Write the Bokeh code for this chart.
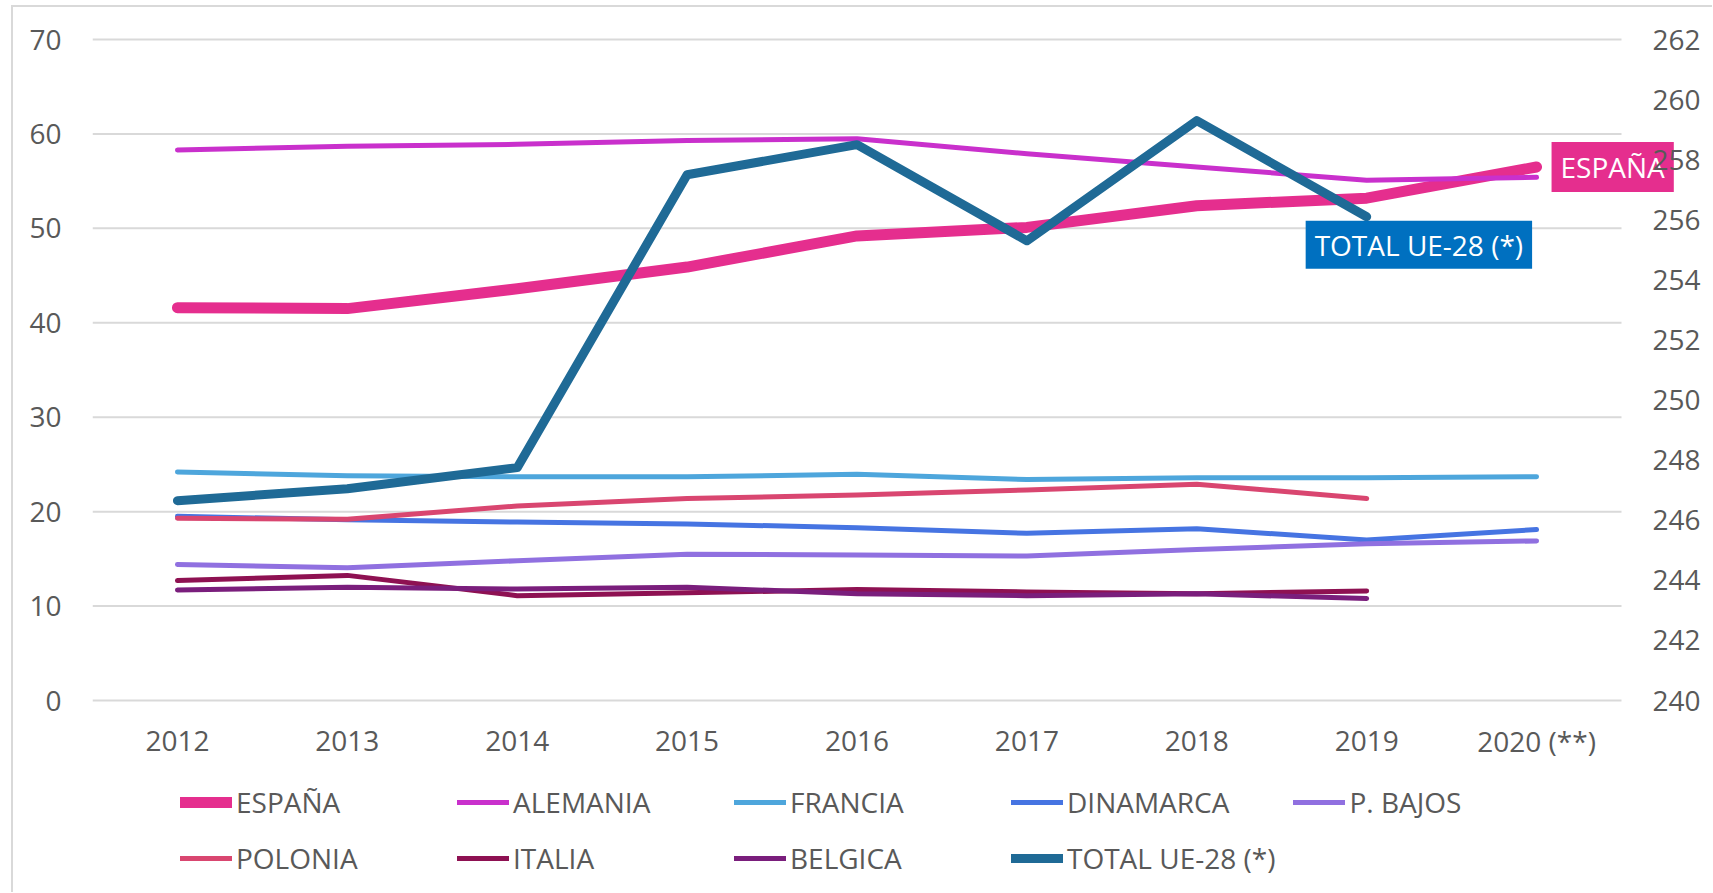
from bokeh.plotting import figure
from bokeh.models import Range1d, FixedTicker, Legend, LegendItem, Label
from bokeh.core.properties import value
from bokeh.embed import file_html
from bokeh.resources import INLINE

# ---------------- data ----------------
years = ["2012", "2013", "2014", "2015", "2016", "2017", "2018", "2019", "2020 (**)"]
espana = [41.6, 41.5, 43.6, 45.9, 49.2, 50.1, 52.4, 53.2, 56.5]
alemania = [58.3, 58.7, 58.9, 59.3, 59.5, 57.9, 56.5, 55.1, 55.4]
francia = [24.2, 23.8, 23.7, 23.7, 23.95, 23.4, 23.6, 23.6, 23.7]
dinamarca = [19.5, 19.15, 18.9, 18.7, 18.3, 17.7, 18.2, 17.0, 18.1]
p_bajos = [14.4, 14.06, 14.8, 15.5, 15.4, 15.3, 16.0, 16.6, 16.9]
polonia = [19.3, 19.2, 20.6, 21.4, 21.75, 22.3, 22.9, 21.4]
italia = [12.7, 13.25, 11.1, 11.4, 11.75, 11.5, 11.3, 11.6]
belgica = [11.7, 12.0, 11.8, 12.0, 11.3, 11.1, 11.3, 10.8]
total_ue28 = [246.65, 247.05, 247.75, 257.5, 258.5, 255.3, 259.3, 256.1]

left_ticks = [0, 10, 20, 30, 40, 50, 60, 70]
right_ticks = [240, 242, 244, 246, 248, 250, 252, 254, 256, 258, 260, 262]

FONT = "Open Sans"
TXT = "#595959"
FS = "28px"

# ---------------- layout (pixels) ----------------
W, H = 1712, 892
LEFT = 92                     # frame starts here
MAX_PIX, ZERO_PIX = 39, 700   # pixel rows of the value axis maximum / minimum
CAT_AREA = 1529               # width covered by the categories / gridlines
n = len(years)
x_end = -0.5 + n * (W - LEFT) / CAT_AREA
plot_h = ZERO_PIX - MAX_PIX
below = (H - ZERO_PIX) / plot_h   # fraction of the value span below the minimum
above = MAX_PIX / plot_h          # fraction of the value span above the maximum
l0, l1 = left_ticks[0], left_ticks[-1]
r0, r1 = right_ticks[0], right_ticks[-1]

p = figure(width=W, height=H, x_range=Range1d(-0.5, x_end),
           y_range=Range1d(l0 - below * (l1 - l0), l1 + above * (l1 - l0)),
           x_axis_location=None, output_backend="svg", toolbar_location=None,
           min_border_left=LEFT, min_border_right=0, min_border_top=0,
           min_border_bottom=0)
p.title.visible = False
p.outline_line_color = None
# transparent canvas so the chart-area border drawn behind it shows through
p.background_fill_alpha = 0
p.border_fill_alpha = 0
p.styles = {
    "background": "linear-gradient(#D9D9D9, #D9D9D9) 11px 5px / 2px 100% no-repeat, "
                  "linear-gradient(#D9D9D9, #D9D9D9) 11px 5px / 100% 2px no-repeat, "
                  "white",
}
p.extra_y_ranges = {"ue": Range1d(r0 - below * (r1 - r0), r1 + above * (r1 - r0))}
p.grid.visible = False

# horizontal gridlines over the category area only
p.segment(x0=[-0.5] * len(left_ticks), x1=[n - 0.5] * len(left_ticks),
          y0=left_ticks, y1=left_ticks, line_color="#D9D9D9", line_width=2)

ax = p.yaxis[0]
ax.ticker = FixedTicker(ticks=left_ticks)
ax.axis_line_color = None
ax.major_tick_line_color = None
ax.minor_tick_line_color = None
ax.major_label_text_font = FONT
ax.major_label_text_font_size = FS
ax.major_label_text_color = TXT
ax.major_label_standoff = 25

series = [
    ("ESPAÑA", espana, "#E52E8E", 11, "default"),
    ("ALEMANIA", alemania, "#C930CC", 5, "default"),
    ("FRANCIA", francia, "#4EA6DC", 5, "default"),
    ("DINAMARCA", dinamarca, "#4674E2", 5, "default"),
    ("P. BAJOS", p_bajos, "#9070E0", 5, "default"),
    ("POLONIA", polonia, "#D94670", 5, "default"),
    ("ITALIA", italia, "#8E1152", 5, "default"),
    ("BELGICA", belgica, "#7A1E7C", 5, "default"),
    ("TOTAL UE-28 (*)", total_ue28, "#1F6A96", 9, "ue"),
]

items = []
for name, vals, color, w, rng in series:
    r = p.line(list(range(len(vals))), vals, line_color=color, line_width=w,
               line_cap="round", line_join="round", y_range_name=rng)
    items.append(LegendItem(label=name, renderers=[r]))

# category labels under the value-axis minimum
p.text(x=list(range(n)), y=[l0] * n, text=years, y_offset=40,
       text_align="center", text_baseline="middle", text_font=value(FONT),
       text_font_size=value(FS), text_color=TXT)

# right-hand scale (TOTAL UE-28)
p.text(x=[n - 0.5] * len(right_ticks), y=right_ticks,
       text=[str(t) for t in right_ticks], y_range_name="ue", x_offset=31,
       text_align="left", text_baseline="middle", text_font=value(FONT),
       text_font_size=value(FS), text_color=TXT)

legend = Legend(items=items, orientation="horizontal", ncols=5,
                location=(88, 15), glyph_width=52, glyph_height=32,
                label_height=32, label_width=203, label_standoff=4, spacing=18,
                padding=0, margin=0, border_line_color=None,
                background_fill_alpha=0, label_text_font=FONT,
                label_text_font_size=FS, label_text_color=TXT)
p.add_layout(legend)

lab_es = Label(x=len(espana) - 1, y=espana[-1], text="ESPAÑA",
               anchor="center_left", x_offset=15, y_offset=0, text_font=FONT,
               text_font_size=FS, text_color="white",
               background_fill_color="#E52E8E", padding=(9, 6), level="underlay")
p.add_layout(lab_es)

lab_ue = Label(x=len(total_ue28) - 1, y=total_ue28[-1], y_range_name="ue",
               text="TOTAL UE-28 (*)", anchor="top_left", x_offset=-61, y_offset=-4,
               text_font=FONT, text_font_size=FS, text_color="white",
               background_fill_color="#0070C0", padding=(9, 5))
p.add_layout(lab_ue)

open("out.html", "w").write(file_html(p, INLINE))
